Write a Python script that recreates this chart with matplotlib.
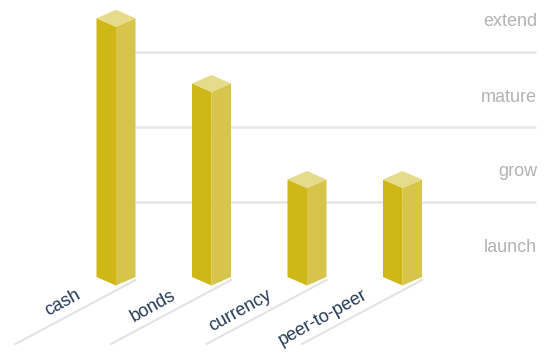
import matplotlib
matplotlib.use("Agg")
import matplotlib.pyplot as plt
from matplotlib.patches import Polygon

# ---- data ----
categories = ["cash", "bonds", "currency", "peer-to-peer"]
values = [3.45, 2.58, 1.30, 1.30]
stage_labels = ["launch", "grow", "mature", "extend"]

# ---- style ----
LEFT_C = "#cfb717"
RIGHT_C = "#d7c54b"
TOP_C = "#e5db8a"
GRID_C = "#e6e6e6"
FLOOR_C = "#e3e3e3"
LABEL_C = "#243a55"
TICK_C = "#b3b3b3"

W, H = 552, 356
fig = plt.figure(figsize=(W / 100, H / 100), dpi=100)
ax = fig.add_axes([0, 0, 1, 1])
ax.set_axis_off()

# pixel geometry of the scales
px_per_x = 95.5
px_per_y = 75.0
x0_px = 116.0
base_px = 277.0
ax.set_xlim(-x0_px / px_per_x, (W - x0_px) / px_per_x)
ax.set_ylim(-(H - base_px) / px_per_y, base_px / px_per_y)

dx = 19.5 / px_per_x      # half width of bar
dy = 8.5 / px_per_y       # isometric depth rise
grid_right = (536 - x0_px) / px_per_x

# grid lines (back wall)
for g in range(1, len(stage_labels)):
    ax.plot([0, grid_right], [g, g], color=GRID_C, lw=1.8, zorder=1,
            solid_capstyle="butt")

# stage labels
for i, s in enumerate(stage_labels):
    ax.text(grid_right + 0.01, i + 0.34, s, ha="right", va="baseline",
            color=TICK_C, fontsize=13, family="Liberation Sans", zorder=2)

for i, (cat, v) in enumerate(zip(categories, values)):
    c = i
    # floor line
    fx1, fy1 = c + dx, -0.04
    fx0, fy0 = fx1 - 120 / px_per_x, fy1 - 64 / px_per_y
    ax.plot([fx0, fx1], [fy0, fy1], color=FLOOR_C, lw=1.5, zorder=2)
    # faces
    left = [(c - dx, 0), (c, -dy), (c, v - dy), (c - dx, v)]
    right = [(c, -dy), (c + dx, 0), (c + dx, v), (c, v - dy)]
    top = [(c - dx, v), (c, v - dy), (c + dx, v), (c, v + dy)]
    ax.add_patch(Polygon(left, closed=True, facecolor=LEFT_C, edgecolor="none", zorder=3))
    ax.add_patch(Polygon(right, closed=True, facecolor=RIGHT_C, edgecolor="none", zorder=3))
    ax.add_patch(Polygon(top, closed=True, facecolor=TOP_C, edgecolor="none", zorder=3))
    # category label
    ax.text(c - 0.36, -0.28, cat, ha="right", va="baseline", rotation=29,
            rotation_mode="anchor", color=LABEL_C, fontsize=13,
            family="Liberation Sans", zorder=4)

fig.savefig("out.png", dpi=100)
